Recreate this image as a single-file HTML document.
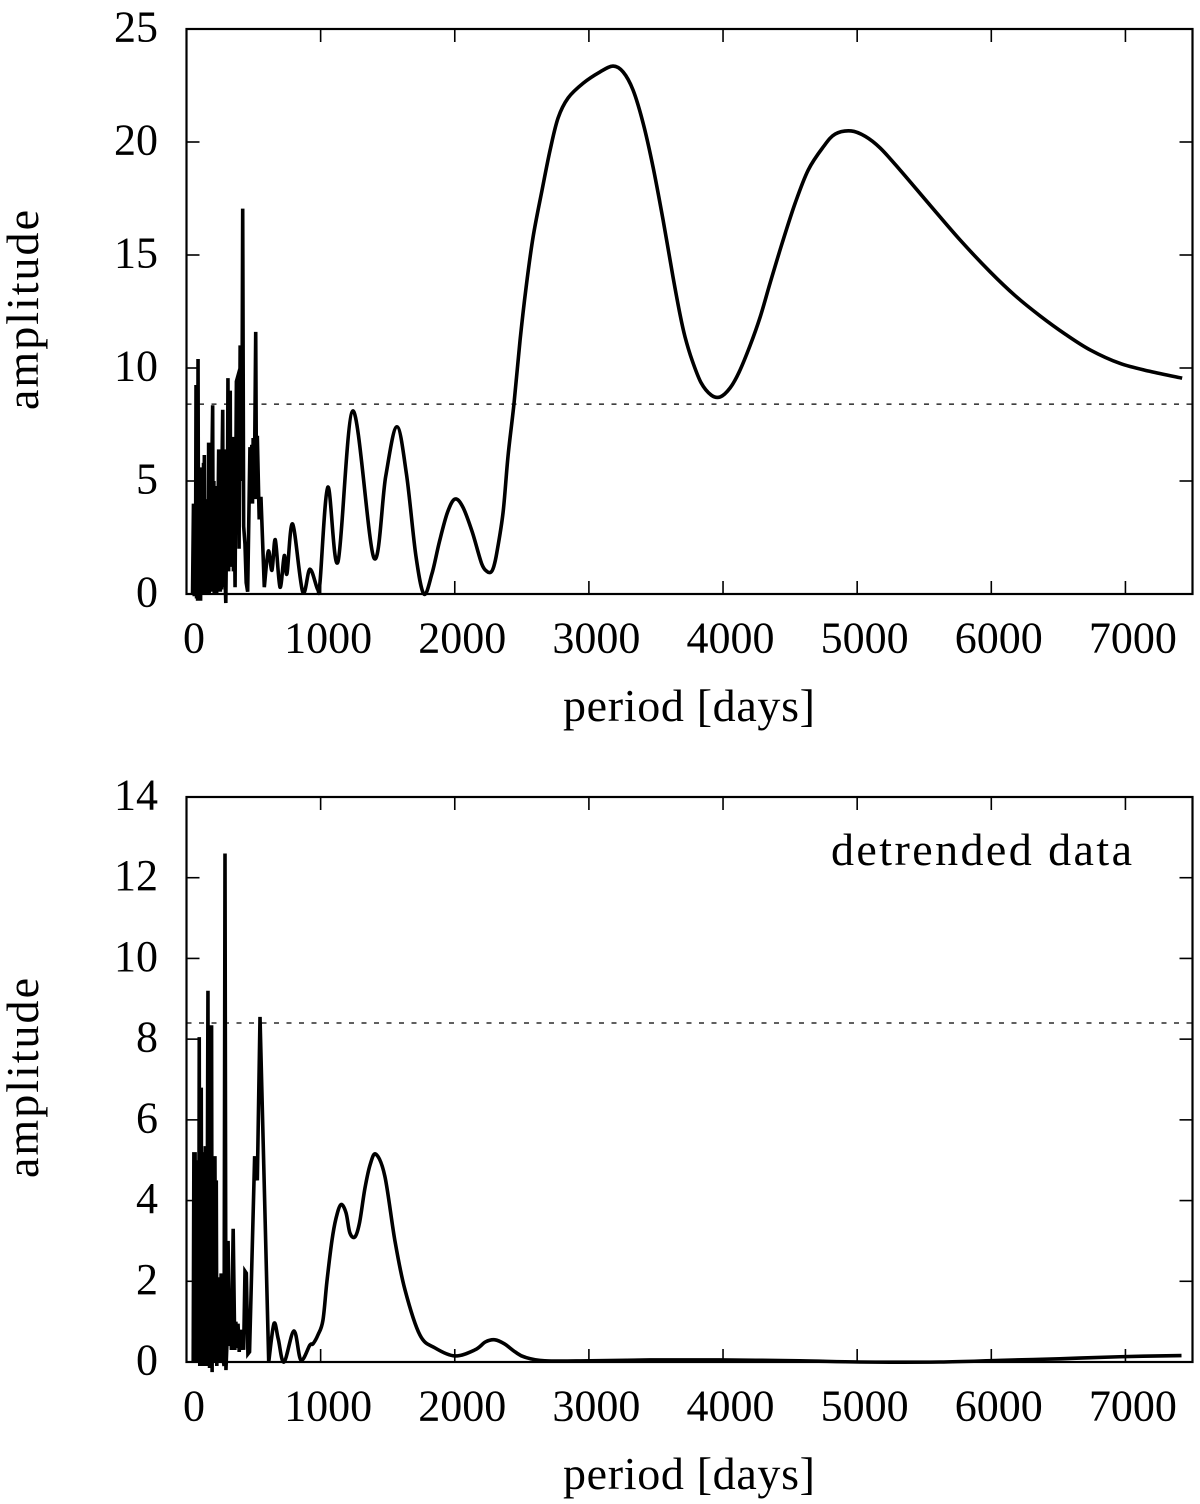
<!DOCTYPE html>
<html lang="en">
<head>
<meta charset="utf-8">
<title>Amplitude vs period</title>
<style>
html,body{margin:0;padding:0;background:#fff;}
svg{display:block;}
text{font-family:"Liberation Serif",serif;font-size:44px;fill:#000;}
text.title{font-size:46px;}
</style>
</head>
<body>
<svg id="chart" xmlns="http://www.w3.org/2000/svg" width="1200" height="1504" viewBox="0 0 1200 1504"></svg>
<script>
const xTicks = [0, 1000, 2000, 3000, 4000, 5000, 6000, 7000];
const topYTicks = [0, 5, 10, 15, 20, 25];
const bottomYTicks = [0, 2, 4, 6, 8, 10, 12, 14];
const thresholdAmplitude = 8.4;
const xLabelText = 'period [days]';
const yLabelText = 'amplitude';
const annotationText = 'detrended data';

const topNoisyPeriods = [45,52,58,63,67,71,75,80,83,86,90,94,98,102,105,109,113,118,122,127,130,133,137,141,145,150,154,159,162,165,169,173,177,182,186,191,195,199,204,207,211,215,219,225,233,240,244,248,252,257,261,266,270,274,278,282,286,293,299,303,309,314,320,326,330,336,340,344,350,356,362,372,386,392,400,412,419,426,436,445,456,473,478,487,492,497,505,516,522,528,542,555,580];
const topNoisyAmps = [0,4.0,-0.1,3.8,0,9.25,-0.2,4.5,-0.3,10.4,0,5,-0.1,5.4,-0.3,5.6,0,5.0,0,5.8,0.1,6.15,0.1,4.2,0,4.0,0.1,4,0,6.7,0,6.5,0.1,6.5,0.1,6.6,8.35,0.1,5,0,4.7,4.7,0.1,0.1,2.4,6.4,0.2,6.4,0.1,6.2,0.2,6.3,8.15,0.3,5,6.4,1,-0.4,3,1,9.55,1.0,6,9.0,1.2,5,1.2,6.95,1.0,4,0.3,9.4,9.7,2,11,5,17.05,3,2.2,0.5,0.1,6.5,4,6.6,4,6.9,4.2,11.6,4.2,7,3.3,4.3,0.3];
const topSmoothPeriods = [580,610,637,662,697,729,749,791,866,920,978,995,1054,1129,1241,1397,1485,1568,1640,1710,1770,1830,1885,1945,2001,2060,2130,2200,2240,2270,2290,2313,2360,2397,2442,2487,2532,2584,2651,2711,2770,2845,2957,3083,3180,3255,3329,3404,3478,3553,3627,3680,3717,3769,3837,3912,3979,4053,4120,4202,4277,4351,4441,4538,4635,4747,4836,4955,5060,5172,5320,5544,5768,5992,6178,6365,6551,6737,6961,7184,7423];
const topSmoothAmps = [0.3,1.9,1.05,2.4,0.3,1.7,0.9,3.1,0.1,1.1,0.2,0.5,4.73,1.42,8.1,1.6,5.2,7.4,5.3,1.7,0,0.9,2.3,3.6,4.2,3.85,2.75,1.35,1.0,0.97,1.2,1.81,3.6,6.1,8.45,11.24,13.58,15.8,17.88,19.65,21.06,21.95,22.6,23.1,23.36,23.1,22.3,20.84,18.9,16.55,14.03,12.35,11.37,10.35,9.34,8.8,8.72,9.12,9.82,11.0,12.26,13.76,15.53,17.3,18.76,19.78,20.35,20.49,20.25,19.73,18.76,17.2,15.66,14.25,13.2,12.3,11.5,10.8,10.2,9.85,9.55];

const bottomNoisyPeriods = [50,55,60,64,68,72,76,80,84,88,91,95,99,103,106,110,114,118,122,126,129,133,136,140,144,148,152,156,160,164,168,172,176,179,183,187,191,195,199,204,208,212,217,222,226,230,235,240,244,249,253,258,266,272,280,287,294,302,310,320,328,335,348,360,368,375,384,393,402,410,418,426,436,446,458,470,508,528,548,613];
const bottomNoisyAmps = [0,5.2,0,5.2,0.1,4.7,0,4.7,0,5,0,8.05,-0.1,5,0,6.8,-0.1,5,0,5.2,-0.1,5,0,5.35,-0.1,5,-0.1,5,9.2,-0.1,5,-0.15,5,0,8.3,8.3,-0.25,5,0,5.1,0,5.1,0,4.5,-0.1,1.5,0,1.9,0,2.1,0,2.15,2.15,0.1,-0.1,12.6,-0.2,0.5,3.0,0.4,1.0,0.3,3.3,0.3,1.0,0.35,0.95,0.25,0.8,0.3,0.75,0.3,2.25,2.2,0.2,0.25,5.1,4.5,8.55,0];
const bottomSmoothPeriods = [613,652,684,727,801,853,920,943,980,1017,1047,1084,1114,1151,1189,1218,1256,1290,1330,1370,1412,1479,1554,1628,1740,1852,2001,2150,2230,2299,2370,2450,2522,2671,3007,3454,3975,4572,5019,5615,6062,6509,6956,7418];
const bottomSmoothAmps = [0,0.95,0.57,0,0.77,0.05,0.42,0.45,0.67,1.03,2.0,3.0,3.55,3.9,3.7,3.2,3.1,3.45,4.3,4.9,5.15,4.6,3.0,1.8,0.67,0.35,0.15,0.3,0.5,0.55,0.45,0.25,0.12,0.03,0.03,0.05,0.05,0.03,0,0,0.04,0.08,0.13,0.16];

const NS = 'http://www.w3.org/2000/svg';
const svg = document.getElementById('chart');
const PLOT_LEFT = 186.5;
const PLOT_RIGHT = 1192.5;
const X_MAX = 7500;

function xScale(v){ return PLOT_LEFT + v * (PLOT_RIGHT - PLOT_LEFT) / X_MAX; }

function make(tag, attrs, parent){
  const el = document.createElementNS(NS, tag);
  for (const k in attrs) el.setAttribute(k, attrs[k]);
  parent.appendChild(el);
  return el;
}

function buildPath(xs, ys, nPeriods, nAmps, sPeriods, sAmps){
  let d = '';
  nPeriods.forEach(function(p, i){
    d += (i ? 'L' : 'M') + xs(p).toFixed(2) + ' ' + ys(nAmps[i]).toFixed(2);
  });
  const pts = sPeriods.map(function(p, i){ return [xs(p), ys(sAmps[i])]; });
  for (let i = 0; i < pts.length - 1; i++){
    const p0 = pts[Math.max(i - 1, 0)], p1 = pts[i], p2 = pts[i + 1], p3 = pts[Math.min(i + 2, pts.length - 1)];
    const c1x = p1[0] + (p2[0] - p0[0]) / 6, c1y = p1[1] + (p2[1] - p0[1]) / 6;
    const c2x = p2[0] - (p3[0] - p1[0]) / 6, c2y = p2[1] - (p3[1] - p1[1]) / 6;
    d += 'C' + c1x.toFixed(2) + ' ' + c1y.toFixed(2) + ' ' + c2x.toFixed(2) + ' ' + c2y.toFixed(2) + ' ' + p2[0].toFixed(2) + ' ' + p2[1].toFixed(2);
  }
  return d;
}

function drawPanel(prefix, top, bottom, yMax, yTicks, nPeriods, nAmps, sPeriods, sAmps){
  const ys = function(v){ return bottom - v * (bottom - top) / yMax; };
  const g = make('g', {}, svg);
  
  

  const thr = make('line', {x1: PLOT_LEFT, x2: PLOT_RIGHT, y1: ys(thresholdAmplitude), y2: ys(thresholdAmplitude), stroke: '#000', 'stroke-width': 1.2, 'stroke-dasharray': '5 7.5'}, g);
  
  

  xTicks.forEach(function(t){
    const x = xScale(t);
    const b = make('line', {x1: x, x2: x, y1: bottom, y2: bottom - 13, stroke: '#000', 'stroke-width': 1.6}, g);
    
    
    const u = make('line', {x1: x, x2: x, y1: top, y2: top + 13, stroke: '#000', 'stroke-width': 1.6}, g);
    
    
    const lab = make('text', {x: x + 7.5, y: bottom + 58.5, 'text-anchor': 'middle'}, g);
    lab.textContent = String(t);
    
    
  });

  yTicks.forEach(function(t){
    const y = ys(t);
    const l = make('line', {x1: PLOT_LEFT, x2: PLOT_LEFT + 13, y1: y, y2: y, stroke: '#000', 'stroke-width': 1.6}, g);
    
    
    const r = make('line', {x1: PLOT_RIGHT, x2: PLOT_RIGHT - 13, y1: y, y2: y, stroke: '#000', 'stroke-width': 1.6}, g);
    
    
    const lab = make('text', {x: 158, y: y + 12.5, 'text-anchor': 'end'}, g);
    lab.textContent = String(t);
    
    
  });

  const curve = make('path', {d: buildPath(xScale, ys, nPeriods, nAmps, sPeriods, sAmps), fill: 'none', stroke: '#000', 'stroke-width': 3.6, 'stroke-linejoin': 'miter', 'stroke-miterlimit': 10}, g);
  
  

  const frame = make('rect', {x: PLOT_LEFT, y: top, width: PLOT_RIGHT - PLOT_LEFT, height: bottom - top, fill: 'none', stroke: '#000', 'stroke-width': 2.2}, g);
  
  

  const xl = make('text', {class: 'title', x: 563, y: bottom + 127, textLength: 252, lengthAdjust: 'spacing'}, g);
  xl.textContent = xLabelText;
  
  

  const cy = (top + bottom) / 2 - 1.5;
  const yl = make('text', {class: 'title', transform: 'translate(38 ' + (cy + 100) + ') rotate(-90)', x: 0, y: 0, textLength: 200, lengthAdjust: 'spacing'}, g);
  yl.textContent = yLabelText;
  
  
  return g;
}

drawPanel('top', 29, 594, 25, topYTicks, topNoisyPeriods, topNoisyAmps, topSmoothPeriods, topSmoothAmps);
const lowerPanel = drawPanel('bottom', 797, 1362, 14, bottomYTicks, bottomNoisyPeriods, bottomNoisyAmps, bottomSmoothPeriods, bottomSmoothAmps);

const note = make('text', {class: 'title', x: 831, y: 865, textLength: 301, lengthAdjust: 'spacing'}, lowerPanel);
note.textContent = annotationText;


</script>
</body>
</html>
